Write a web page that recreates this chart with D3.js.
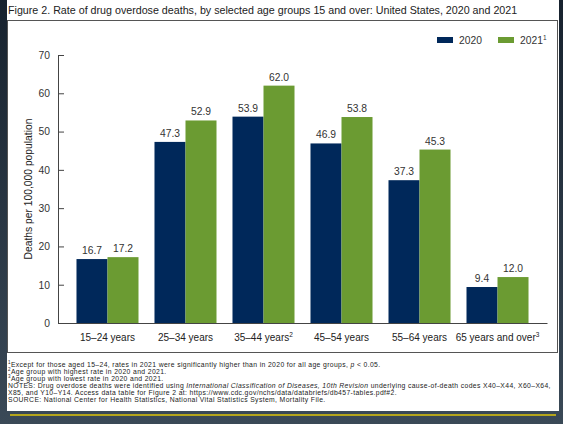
<!DOCTYPE html>
<html>
<head>
<meta charset="utf-8">
<script src="https://cdn.jsdelivr.net/npm/d3@7"></script>
<style>
  body { margin: 0; background: #1d2936; }
  svg { display: block; font-family: "Liberation Sans", Arial, sans-serif; }
</style>
</head>
<body>
<div id="chart"></div>
<script>
// data
const ageGroups = ["15–24 years", "25–34 years", "35–44 years", "45–54 years", "55–64 years", "65 years and over"];
const ageSup = ["", "", "2", "", "", "3"];
const rate2020 = [16.7, 47.3, 53.9, 46.9, 37.3, 9.4];
const rate2021 = [17.2, 52.9, 62.0, 53.8, 45.3, 12.0];
const yTicks = [0, 10, 20, 30, 40, 50, 60, 70];
const seriesNames = ["2020", "2021"];
const seriesSup = ["", "1"];

const W = 563, H = 424;
const margin = { top: 55, right: 16, bottom: 101, left: 58 };
const colors = ["#00285a", "#6b9b32"];

const svg = d3.select("#chart").append("svg")
  .attr("width", W)
  .attr("height", H);

// slide-ish backdrop
const grad = svg.append("defs").append("linearGradient")
  .attr("id", "bg").attr("x1", 0).attr("y1", 0).attr("x2", 0).attr("y2", 1);
grad.append("stop").attr("offset", "0%").attr("stop-color", "#17222e");
grad.append("stop").attr("offset", "100%").attr("stop-color", "#3a4957");
svg.append("rect").attr("width", W).attr("height", H).attr("fill", "url(#bg)");

// white panel
svg.append("rect").attr("x", 7).attr("y", 0).attr("width", 552).attr("height", 411).attr("fill", "#fff");
svg.append("rect").attr("x", 7.5).attr("y", 20.5).attr("width", 550).attr("height", 332)
  .attr("fill", "none").attr("stroke", "#555").attr("stroke-width", 1);
svg.append("line").attr("x1", 10).attr("x2", 556).attr("y1", 415).attr("y2", 415)
  .attr("stroke", "#b4a51c").attr("stroke-width", 2);

svg.append("text")
  .attr("x", 8).attr("y", 14)
  .attr("font-size", 10.7).attr("fill", "#222")
  .text("Figure 2. Rate of drug overdose deaths, by selected age groups 15 and over: United States, 2020 and 2021");

const plotW = 547 - margin.left;
const plotH = 323 - margin.top;
const g = svg.append("g").attr("transform", `translate(${margin.left},${margin.top})`);

const x0 = d3.scaleBand().domain(ageGroups).range([0, plotW]).paddingInner(0.205).paddingOuter(0.237);
const x1 = d3.scaleBand().domain(seriesNames).range([0, x0.bandwidth()]);
const y = d3.scaleLinear().domain([0, 70]).range([plotH, 0]);

// y axis, ticks pointing inward
g.append("g")
  .call(d3.axisLeft(y).tickValues(yTicks).tickSizeInner(-6).tickSizeOuter(0).tickPadding(8))
  .call(a => a.select(".domain").attr("stroke", "#444"))
  .call(a => a.selectAll(".tick line").attr("stroke", "#444"))
  .call(a => a.selectAll(".tick text").attr("font-size", 10.3).attr("fill", "#333")
    .attr("font-family", "Liberation Sans, Arial, sans-serif"));

// x axis line + labels
const xAxis = g.append("g")
  .attr("transform", `translate(0,${plotH})`)
  .call(d3.axisBottom(x0).tickSize(0).tickPadding(11).tickFormat(""));
xAxis.select(".domain").attr("stroke", "#444");
xAxis.selectAll(".tick text").each(function (d, i) {
  const t = d3.select(this)
    .attr("font-size", 10).attr("fill", "#222")
    .attr("font-family", "Liberation Sans, Arial, sans-serif");
  t.append("tspan").text(d);
  if (ageSup[i]) t.append("tspan").attr("dy", -4).attr("font-size", 6.5).text(ageSup[i]);
});

const rows = ageGroups.map((a, i) => ({ age: a, vals: [rate2020[i], rate2021[i]] }));

const grp = g.selectAll(".grp").data(rows).join("g")
  .attr("transform", d => `translate(${x0(d.age)},0)`);

grp.selectAll("rect")
  .data(d => d.vals.map((v, j) => ({ v, s: seriesNames[j], j })))
  .join("rect")
  .attr("x", d => x1(d.s))
  .attr("y", d => y(d.v))
  .attr("width", x1.bandwidth())
  .attr("height", d => plotH - y(d.v))
  .attr("fill", d => colors[d.j]);

grp.selectAll(".val")
  .data(d => d.vals.map((v, j) => ({ v, s: seriesNames[j] })))
  .join("text")
  .attr("x", d => x1(d.s) + x1.bandwidth() / 2)
  .attr("y", d => y(d.v) - 5)
  .attr("text-anchor", "middle")
  .attr("font-size", 10.3).attr("fill", "#333")
  .text(d => d.v.toFixed(1));

// y label
svg.append("text")
  .attr("transform", `translate(32,${margin.top + plotH / 2}) rotate(-90)`)
  .attr("text-anchor", "middle")
  .attr("font-size", 10.3).attr("fill", "#222")
  .text("Deaths per 100,000 population");

// legend
const legX = [437, 498];
seriesNames.forEach((s, i) => {
  svg.append("rect").attr("x", legX[i]).attr("y", 37).attr("width", 16).attr("height", 6).attr("fill", colors[i]);
  const t = svg.append("text").attr("x", legX[i] + 22).attr("y", 44)
    .attr("font-size", 10.3).attr("fill", "#333");
  t.append("tspan").text(s);
  if (seriesSup[i]) t.append("tspan").attr("dy", -4).attr("font-size", 6.5).text(seriesSup[i]);
});

// footnotes
const notes = [
  [["sup", "1"], ["", "Except for those aged 15–24, rates in 2021 were significantly higher than in 2020 for all age groups, "], ["i", "p"], ["", " < 0.05."]],
  [["sup", "2"], ["", "Age group with highest rate in 2020 and 2021."]],
  [["sup", "3"], ["", "Age group with lowest rate in 2020 and 2021."]],
  [["", "NOTES: Drug overdose deaths were identified using "], ["i", "International Classification of Diseases, 10th Revision"], ["", " underlying cause-of-death codes X40–X44, X60–X64,"]],
  [["", "X85, and Y10–Y14. Access data table for Figure 2 at: https://www.cdc.gov/nchs/data/databriefs/db457-tables.pdf#2."]],
  [["", "SOURCE: National Center for Health Statistics, National Vital Statistics System, Mortality File."]]
];
notes.forEach((line, i) => {
  const t = svg.append("text").attr("x", 8).attr("y", 366.5 + i * 7)
    .attr("font-size", 6.8).attr("letter-spacing", 0.37).attr("fill", "#222");
  line.forEach(([k, s], j) => {
    if (k === "sup") {
      t.append("tspan").attr("font-size", 4.5).attr("dy", -2.3).text(s);
    } else {
      const sp = t.append("tspan").text(s);
      if (k === "i") sp.attr("font-style", "italic");
      if (j === 1 && line[0][0] === "sup") sp.attr("dy", 2.3);
    }
  });
});
</script>
</body>
</html>
